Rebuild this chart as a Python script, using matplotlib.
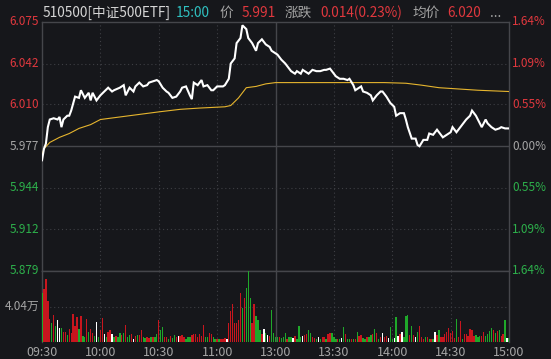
import matplotlib.pyplot as plt

plt.rcParams["font.family"] = ["Noto Sans CJK SC", "DejaVu Sans"]

# ---- data ----
prev_close = 5.977
last_price = 5.991
avg_price = 6.020

price_minutes = [
    0, 1, 2, 3, 4, 6, 8, 9, 10, 11,
    13, 14, 15, 17, 19, 20, 22, 24, 25, 26,
    28, 30, 32, 34, 36, 37, 40, 42, 43, 45,
    47, 48, 50, 52, 54, 55, 57, 59, 60, 62,
    64, 65, 67, 69, 71, 72, 74, 76, 77, 78,
    80, 82, 83, 85, 87, 88, 90, 93, 94, 96,
    97, 99, 100, 102, 103, 105, 106, 108, 110, 111,
    113, 115, 117, 118, 120, 121, 123, 125, 127, 128,
    130, 131, 133, 134, 135, 137, 139, 141, 143, 145,
    146, 148, 150, 151, 153, 155, 157, 158, 160, 161,
    163, 164, 165, 167, 169, 170, 172, 174, 175, 177,
    179, 181, 182, 184, 186, 187, 188, 190, 192, 193,
    194, 196, 198, 199, 201, 203, 205, 206, 208, 210,
    211, 213, 215, 217, 218, 220, 221, 223, 224, 226,
    228, 229, 231, 233, 235, 236, 238, 240,
]
price_values = [
    5.966, 5.975, 5.979, 5.992, 5.998, 5.999, 5.998, 6.000, 5.992, 5.998,
    6.001, 6.001, 6.005, 6.016, 6.015, 6.021, 6.015, 6.019, 6.013, 6.019,
    6.013, 6.017, 6.020, 6.023, 6.020, 6.021, 6.023, 6.025, 6.017, 6.023,
    6.020, 6.024, 6.027, 6.024, 6.025, 6.027, 6.028, 6.029, 6.028, 6.023,
    6.020, 6.019, 6.015, 6.016, 6.020, 6.023, 6.024, 6.017, 6.014, 6.027,
    6.025, 6.029, 6.024, 6.025, 6.021, 6.021, 6.024, 6.024, 6.025, 6.030,
    6.042, 6.046, 6.058, 6.062, 6.072, 6.069, 6.062, 6.058, 6.052, 6.058,
    6.061, 6.057, 6.055, 6.052, 6.050, 6.049, 6.045, 6.042, 6.038, 6.036,
    6.034, 6.036, 6.034, 6.037, 6.036, 6.034, 6.037, 6.036, 6.036, 6.037,
    6.037, 6.038, 6.034, 6.032, 6.030, 6.030, 6.029, 6.030, 6.025, 6.021,
    6.023, 6.024, 6.020, 6.019, 6.017, 6.013, 6.017, 6.020, 6.020, 6.016,
    6.011, 6.008, 6.001, 6.003, 6.003, 5.998, 5.992, 5.983, 5.983, 5.978,
    5.977, 5.982, 5.982, 5.987, 5.986, 5.990, 5.986, 5.984, 5.986, 5.988,
    5.992, 5.988, 5.992, 5.996, 5.998, 6.001, 6.005, 6.001, 5.998, 5.992,
    5.998, 5.995, 5.992, 5.990, 5.991, 5.992, 5.991, 5.991,
]

avg_minutes = [0, 1, 4, 9, 14, 19, 25, 30, 40, 50, 60, 71, 81, 94, 97,
               101, 105, 110, 115, 120, 135, 152, 176, 187, 195, 204, 214,
               224, 240]
avg_values = [5.970, 5.975, 5.980, 5.984, 5.987, 5.991, 5.994, 5.998, 6.000,
              6.002, 6.004, 6.006, 6.007, 6.008, 6.009, 6.015, 6.023, 6.024,
              6.026, 6.027, 6.027, 6.027, 6.027, 6.0265, 6.025, 6.023, 6.022,
              6.021, 6.020]

# volume per minute, unit: 万 (09:30 - 11:29)
volume_morning = [
    5.62, 6.0, 7.16, 4.66, 2.62, 2.15, 3.12, 1.77, 2.54, 1.58,
    1.58, 1.19, 1.19, 0.81, 1.46, 1.0, 3.23, 1.85, 2.85, 1.46,
    3.0, 0.69, 0.54, 2.62, 1.19, 1.46, 1.08, 0.69, 2.31, 0.54,
    1.31, 2.69, 0.92, 0.62, 1.19, 1.31, 0.92, 0.54, 0.69, 0.54,
    1.0, 0.77, 1.0, 1.96, 0.54, 0.81, 0.92, 0.38, 0.69, 0.81,
    0.81, 1.31, 0.62, 0.46, 0.54, 0.46, 0.54, 0.62, 0.62, 0.92,
    2.54, 1.31, 1.69, 0.62, 0.54, 0.38, 0.69, 0.5, 0.81, 0.54,
    0.69, 0.69, 0.77, 0.54, 0.38, 0.54, 0.62, 0.81, 0.92, 0.92,
    0.62, 0.92, 0.69, 1.92, 0.54, 0.62, 1.0, 0.92, 0.54, 0.38,
    0.38, 0.38, 0.38, 0.38, 0.46, 0.38, 2.15, 3.5, 4.27, 2.15,
    2.15, 2.54, 5.62, 3.89, 5.04, 6.2, 8.1, 5.04, 2.15, 4.27,
    2.92, 2.54, 1.38, 0.92, 1.46, 1.0, 0.81, 0.69, 3.62, 1.08,
]
# r = up, g = down, w = flat
side_morning = (
    "grrrrgrgww" "grrgrrrrrg" "rggrgrrgwg" "rrwgrrwgrg"
    "grgrggrwrg" "rrggrrgrgg" "rggrrgrggr" "wrrrgggrrr"
    "rrrrggrrgg" "rgrrrwrrrr" "rrrgrgggrr" "gggrwgwrgg"
)
# 13:00 - 15:00
volume_afternoon = [
    0.6, 0.54, 0.54, 0.5, 0.54, 1.08, 0.3, 0.54, 0.54, 0.42,
    0.69, 0.3, 1.85, 0.54, 0.69, 0.81, 0.92, 1.31, 1.0, 0.54,
    0.46, 0.3, 0.54, 0.3, 0.54, 0.62, 0.3, 0.92, 1.0, 1.08,
    0.62, 0.38, 0.3, 0.3, 0.46, 1.69, 0.92, 0.3, 0.31, 0.3,
    0.3, 0.3, 1.15, 0.69, 0.85, 0.46, 0.3, 0.54, 0.54, 0.81,
    0.92, 1.46, 1.0, 0.3, 0.62, 1.08, 0.62, 0.69, 0.46, 1.69,
    0.3, 0.46, 2.85, 0.69, 0.92, 1.15, 0.62, 3.0, 3.12, 0.81,
    1.85, 0.77, 0.54, 1.15, 1.85, 0.54, 0.38, 0.54, 0.54, 0.38,
    0.38, 0.3, 1.15, 0.77, 1.31, 0.54, 0.54, 0.92, 1.19, 1.62,
    1.0, 1.23, 0.4, 2.62, 0.62, 2.42, 0.38, 0.92, 0.92, 0.69,
    1.46, 1.38, 0.69, 0.81, 0.54, 0.69, 0.69, 1.15, 0.69, 0.92,
    1.23, 1.54, 1.38, 1.08, 1.23, 1.31, 0.69, 0.92, 2.54, 0.5,
    0.4,
]
side_afternoon = (
    "ggrgggrggw" "rgggwrrggr" "rgwgrrgrrg" "ggrgwgrggr"
    "grgrrggrgg" "rgrgrwrrwg" "gwgwrwgggr" "grwgrrrgrg"
    "rgwrgrrrrr" "rrrgrrgrrr" "rrrgggrrgg" "ggrgrgrrgw" "g"
)

price_labels = ["6.075", "6.042", "6.010", "5.977", "5.944", "5.912", "5.879"]
pct_labels = ["1.64%", "1.09%", "0.55%", "0.00%", "0.55%", "1.09%", "1.64%"]
time_ticks = [0, 30, 60, 90, 120, 150, 180, 210, 240]
time_labels = ["09:30", "10:00", "10:30", "11:00", "13:00",
               "13:30", "14:00", "14:30", "15:00"]
volume_mid = 4.04
volume_label = "4.04万"

# ---- style ----
BG = "#16171b"
GRID = "#3e3f44"
FRAME = "#45464b"
RED = "#e0383e"
GREEN = "#2db04b"
GRAY = "#a5a5a5"
CYAN = "#2fc0c0"
TITLE = "#d6d6d6"
BAR_COLORS = {"r": "#c8161e", "g": "#1fa82a", "w": "#ffffff"}

W, H = 551, 359


def fx(x):
    return x / W


def fy(y):
    return 1 - y / H


def label_color(i):
    if i < 3:
        return RED
    if i == 3:
        return GRAY
    return GREEN


fig = plt.figure(figsize=(W / 100, H / 100), dpi=100)
fig.patch.set_facecolor(BG)

left, right = 42, 509
top, mid, bottom = 21.5, 271, 342

ax = fig.add_axes([fx(left), fy(mid), fx(right - left), (mid - top) / H])
vax = fig.add_axes([fx(left), fy(bottom), fx(right - left), (bottom - mid) / H])

price_levels = [float(v) for v in price_labels]

for a in (ax, vax):
    a.set_facecolor(BG)
    a.set_xlim(0, 240)
    a.set_xticks([])
    a.set_yticks([])
    for s in a.spines.values():
        s.set_color(FRAME)
        s.set_linewidth(1.0)
    for t in time_ticks[1:-1]:
        if t == 120:
            a.axvline(t, color=FRAME, lw=1.0, zorder=1)
        else:
            a.axvline(t, color=GRID, lw=0.8, ls=(0, (1, 2.5)), zorder=1)

vax.spines["bottom"].set_visible(False)

ax.set_ylim(price_levels[-1], price_levels[0])
for level in price_levels[1:-1]:
    if level == prev_close:
        ax.axhline(level, color=FRAME, lw=1.0, zorder=1)
    else:
        ax.axhline(level, color=GRID, lw=0.8, ls=(0, (1, 2.5)), zorder=1)

ax.plot(avg_minutes, avg_values, color="#e6b52e", lw=0.8, zorder=3)
ax.plot(price_minutes, price_values, color="white", lw=1.5, zorder=4,
        solid_joinstyle="miter")

volume = volume_morning + volume_afternoon
sides = side_morning + side_afternoon
vax.set_ylim(0, volume_mid * 2)
vax.axhline(volume_mid, color=GRID, lw=0.8, ls=(0, (1, 2.5)), zorder=1)
vax.bar(range(len(volume)), volume, width=0.7, linewidth=0,
        color=[BAR_COLORS[s] for s in sides], antialiased=False, zorder=3)

# axis labels
for i, (p, q) in enumerate(zip(price_labels, pct_labels)):
    y = top + i * (mid - top) / 6
    fig.text(fx(39), fy(y), p, color=label_color(i), fontsize=8.5,
             ha="right", va="center")
    fig.text(fx(512), fy(y), q, color=label_color(i), fontsize=8.5,
             ha="left", va="center")

fig.text(fx(39), fy((mid + bottom) / 2), volume_label, color=GRAY,
         fontsize=8.5, ha="right", va="center")

for t, lab in zip(time_ticks, time_labels):
    x = left + t * (right - left) / 240
    fig.text(fx(x), fy(352), lab, color=GRAY, fontsize=9,
             ha="center", va="center")

# header line
header = [
    (43, "510500[中证500ETF]", TITLE),
    (176, "15:00", CYAN),
    (219, "价", GRAY),
    (242, f"{last_price:.3f}", RED),
    (285, "涨跌", GRAY),
    (320, f"{last_price - prev_close:.3f}"
          f"({(last_price - prev_close) / prev_close * 100:.2f}%)", RED),
    (412, "均价", GRAY),
    (447, f"{avg_price:.3f}", RED),
    (490, "...", GRAY),
]
for x, txt, c in header:
    fig.text(fx(x), fy(13), txt, color=c, fontsize=9.8, ha="left", va="center")

fig.savefig("out.png", dpi=100, facecolor=BG)
